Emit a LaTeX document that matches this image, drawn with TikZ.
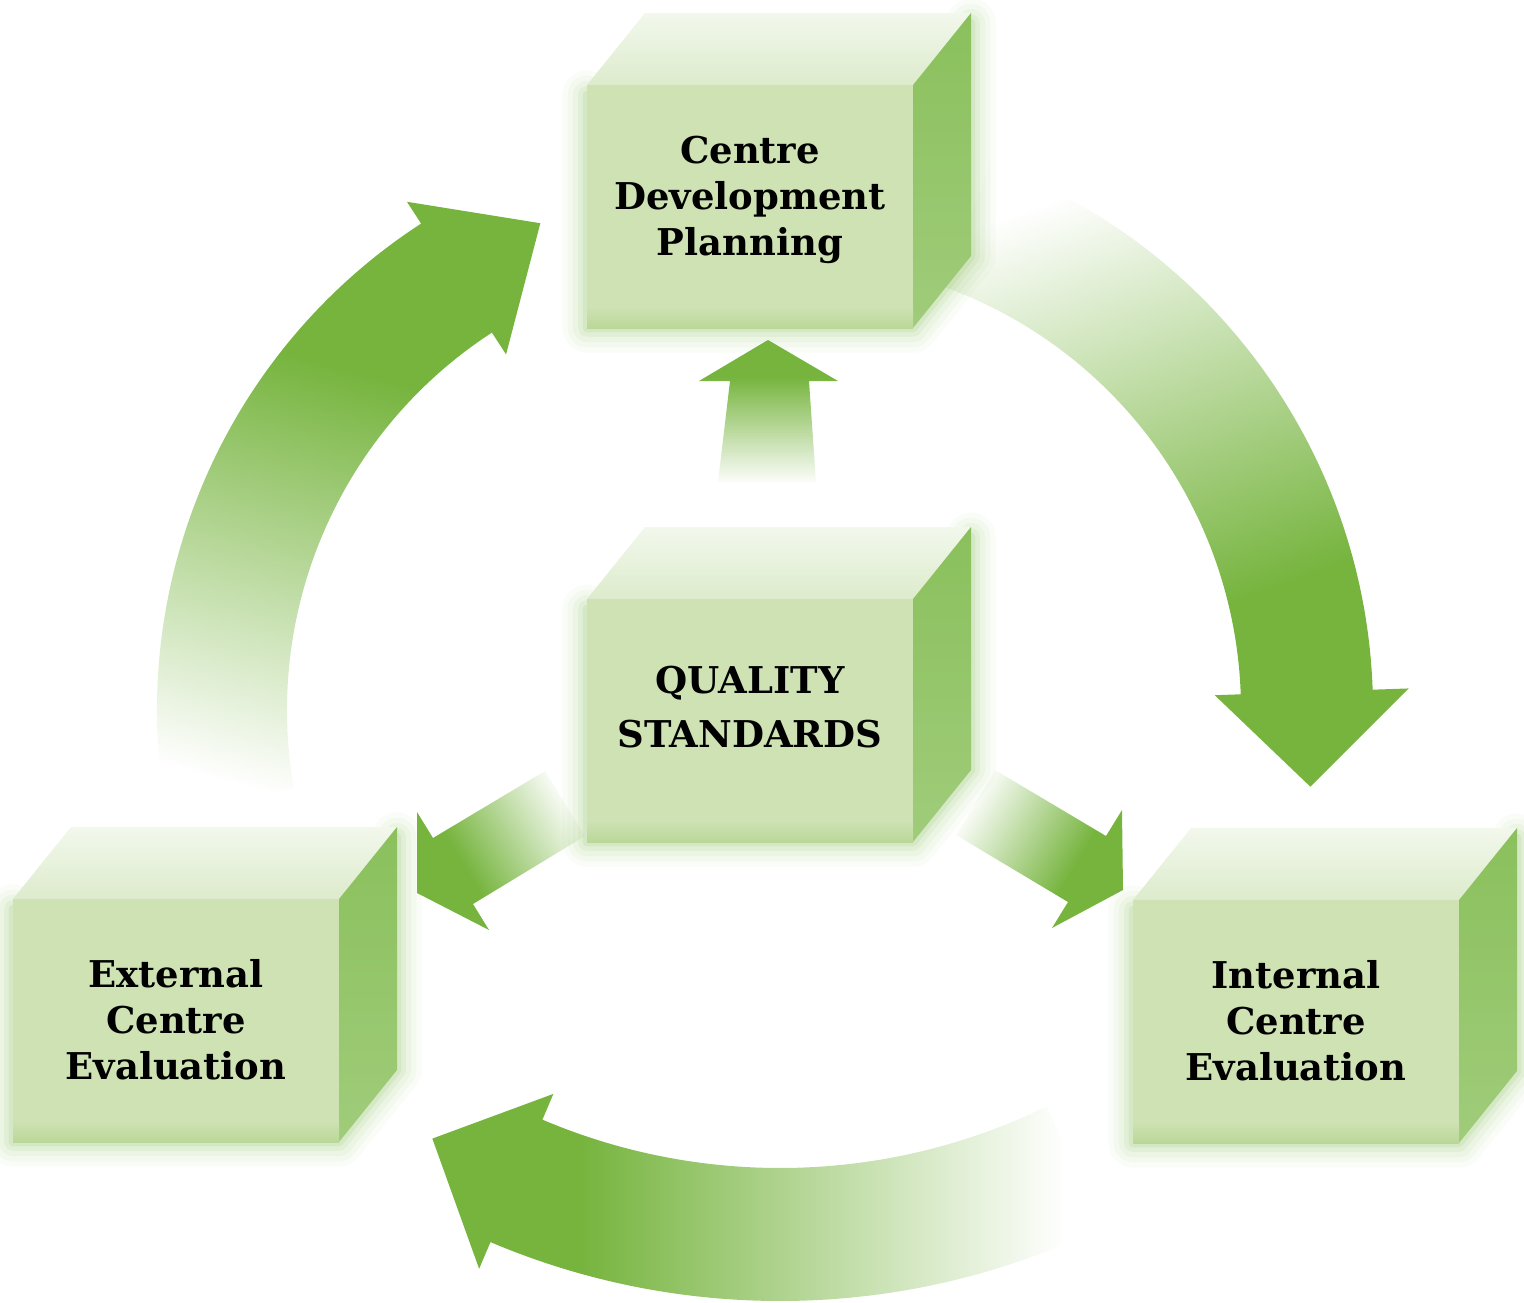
\documentclass[tikz,border=0pt]{standalone}
\usepackage{fontspec}
\setmainfont{DejaVu Serif}
\definecolor{agreen}{RGB}{118,180,62}
\definecolor{frontgreen}{RGB}{206,226,179}
\definecolor{frontlow}{RGB}{186,215,152}
\definecolor{topfront}{RGB}{221,235,204}
\definecolor{topback}{RGB}{242,248,236}
\definecolor{sidetop}{RGB}{138,192,92}
\definecolor{sidebot}{RGB}{160,204,122}
\definecolor{glowgreen}{RGB}{125,185,74}
\pgfdeclareverticalshading{fadeup}{100bp}{color(0bp)=(white); color(24bp)=(white); color(62bp)=(agreen); color(100bp)=(agreen)}
\pgfdeclareverticalshading{fadelong}{100bp}{color(0bp)=(white); color(28bp)=(white); color(64bp)=(agreen); color(100bp)=(agreen)}

\begin{document}
\begin{tikzpicture}[x=0.01cm,y=-0.01cm,
    cubetext/.style={align=center,inner sep=0pt,font=\bfseries\fontsize{10.5}{13.1}\selectfont},
    cubecaps/.style={align=center,inner sep=0pt,font=\bfseries\fontsize{10.5}{15.6}\selectfont},
    flow/.style={shading=fadeup},
    longflow/.style={shading=fadelong}]
\useasboundingbox (0,0) rectangle (1524,1303);
% ring of big arrows
\begin{scope}[shift={(737,710)}]
\shade[flow,shading angle=-15] (170:450) arc[start angle=170,end angle=237,radius=450] -- (237:424) -- (248:525) -- (237:606) -- (237:580) arc[start angle=237,end angle=170,radius=580] -- cycle;
\end{scope}
\begin{scope}[shift={(791,710)}]
\shade[flow,shading angle=200] (-70:450) arc[start angle=-70,end angle=-2,radius=450] -- (-2:424) -- (8.4:525) -- (-2:618) -- (-2:582) arc[start angle=-2,end angle=-70,radius=582] -- cycle;
\end{scope}
\begin{scope}[shift={(780,560)}]
\shade[longflow,shading angle=90] (64:608) arc[start angle=64,end angle=113,radius=608] -- (113:580) -- (121:675) -- (113:770) -- (113:741) arc[start angle=113,end angle=64,radius=741] -- cycle;
\end{scope}
% arrows out of the standards
\shade[flow] (718,482) -- (730,381) -- (699,381) -- (768,340) -- (838,381) -- (809,381) -- (816,482) -- cycle;
\shade[flow,shading angle=121] (545,771) -- (433,838) -- (417,812) -- (417,893) -- (489,930) -- (473,904) -- (585,836) -- cycle;
\shade[flow,shading angle=-121] (995,770) -- (1106,836) -- (1122,810) -- (1123,890) -- (1052,928) -- (1068,902) -- (956,835) -- cycle;
% cubes
\foreach \x/\y/\dy/\nm/\sty/\txt in {587/85/-6/cdp/cubetext/{Centre\\Development\\Planning},
    587/599/-13/qs/cubecaps/{QUALITY\\STANDARDS},
    13/899/0/ece/cubetext/{External\\Centre\\Evaluation},
    1133/900/0/ice/cubetext/{Internal\\Centre\\Evaluation}}{
    \foreach \w/\o in {14/0.04,11/0.05,8/0.07,5/0.09,2.5/0.12}
        \draw[glowgreen,opacity=\o,line width=\w pt,line join=round,line cap=round] (\x,\y+10) -- ++(0,233) -- ++(326,0) -- ++(58,-72) -- ++(0,-233);
    \shade[top color=topback,bottom color=topfront] (\x,\y) -- ++(58,-72) -- ++(326,0) -- ++(-58,72) -- cycle;
    \shade[top color=sidetop,bottom color=sidebot] (\x+326,\y) -- ++(58,-72) -- ++(0,243) -- ++(-58,72) -- cycle;
    \fill[frontgreen] (\x,\y) rectangle ++(326,243);
    \shade[top color=frontgreen,bottom color=frontlow] (\x,\y+222) rectangle ++(326,21);
    \node[\sty] (\nm) at (\x+163,\y+121+\dy) {\txt};
}
\end{tikzpicture}
\end{document}
